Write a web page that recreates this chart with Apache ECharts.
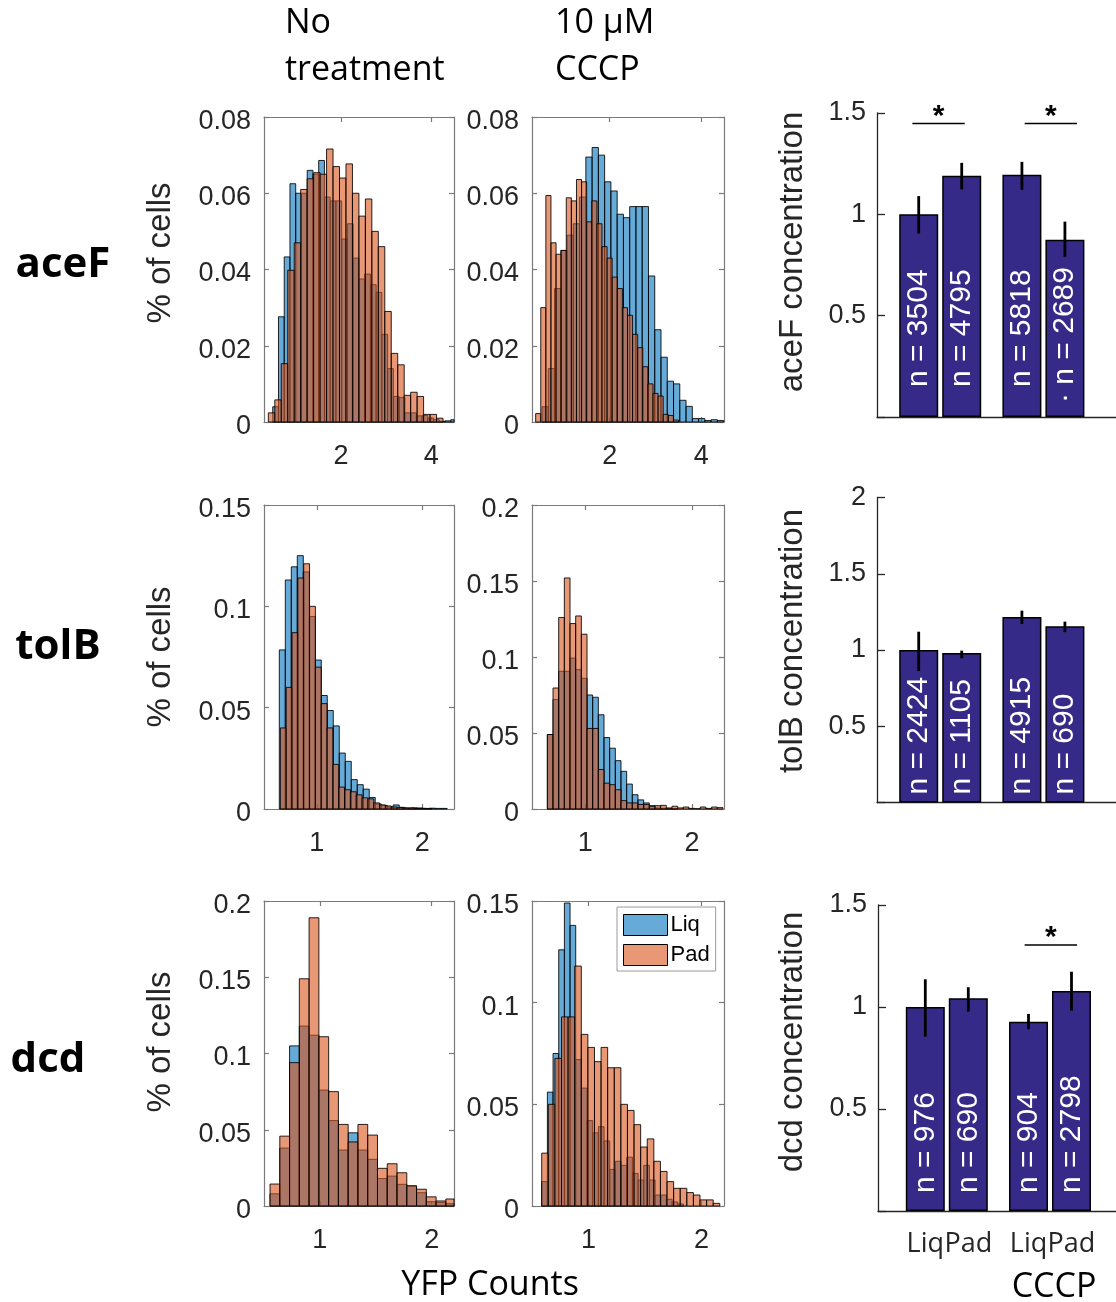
<!DOCTYPE html>
<html><head><meta charset="utf-8">
<script src="https://cdn.jsdelivr.net/npm/echarts@6/dist/echarts.min.js"></script>
<style>html,body{margin:0;padding:0;background:#fff}#c{width:1116px;height:1302px}</style>
</head><body><div id="c"></div>
<script>
// ---------------- DATA ----------------
// Histograms: fraction of cells per YFP bin (bin start, bin width, heights)
const aceF_none_liq_start = 0.493, aceF_none_liq_width = 0.127;
const aceF_none_liq = [0.004,0.0276,0.0433,0.0625,0.060,0.060,0.066,0.065,0.0686,0.059,0.058,0.058,0.048,0.052,0.043,0.0375,0.0388,0.036,0.034,0.023,0.014,0.0067,0.0064,0.0024,0.0024,0.0016,0.0017,0.001,0.0006,0.0002,0.0003,0.0006];
const aceF_none_pad_start = 0.396, aceF_none_pad_width = 0.143;
const aceF_none_pad = [0.0024,0.0058,0.0153,0.0398,0.047,0.061,0.0638,0.0654,0.065,0.0716,0.067,0.064,0.0677,0.060,0.054,0.0585,0.050,0.046,0.029,0.018,0.015,0.007,0.0078,0.0067,0.002,0.002,0.001];

const aceF_cccp_liq_start = 0.519, aceF_cccp_liq_width = 0.137;
const aceF_cccp_liq = [0.004,0.014,0.035,0.045,0.049,0.052,0.059,0.0695,0.072,0.070,0.063,0.0606,0.0545,0.0536,0.0565,0.0565,0.0565,0.0383,0.0242,0.017,0.0107,0.010,0.0057,0.0041,0.0009,0.0009,0.0004,0.0006,0.0004];
const aceF_cccp_pad_start = 0.38, aceF_cccp_pad_width = 0.1116;
const aceF_cccp_pad = [0.0022,0.030,0.0594,0.047,0.044,0.045,0.0588,0.058,0.0636,0.063,0.0525,0.058,0.052,0.046,0.043,0.038,0.035,0.030,0.028,0.023,0.0195,0.0145,0.010,0.0075,0.0068,0.002,0.0017,0.0005];

const tolB_none_liq_start = 0.645, tolB_none_liq_width = 0.0568;
const tolB_none_liq = [0.0785,0.113,0.1195,0.125,0.117,0.095,0.0735,0.056,0.0486,0.041,0.0276,0.0235,0.0145,0.012,0.0098,0.0057,0.0025,0.0018,0.001,0.002,0.0008,0.0005,0.0006,0.0005,0.0003,0.0004,0.0003,0.0003];
const tolB_none_pad_start = 0.655, tolB_none_pad_width = 0.0553;
const tolB_none_pad = [0.040,0.060,0.087,0.114,0.121,0.100,0.070,0.052,0.040,0.022,0.0108,0.0095,0.0085,0.007,0.0055,0.005,0.003,0.002,0.0015,0.001,0.0008,0.0005,0.0005,0.0003,0.0003,0.0002];

const tolB_cccp_liq_start = 0.644, tolB_cccp_liq_width = 0.0531;
const tolB_cccp_liq = [0.049,0.072,0.0906,0.0906,0.0993,0.0917,0.086,0.075,0.0735,0.062,0.047,0.040,0.0318,0.0248,0.0164,0.0094,0.006,0.004,0.0022,0.0007,0.0005,0.0003,0.0002];
const tolB_cccp_pad_start = 0.644, tolB_cccp_pad_width = 0.0531;
const tolB_cccp_pad = [0.049,0.0796,0.126,0.152,0.122,0.127,0.115,0.053,0.053,0.026,0.017,0.016,0.0127,0.0055,0.004,0.004,0.003,0.003,0.0018,0.0022,0.0024,0.0007,0.0018,0.0007,0.0013,0.0004,0.0002,0.0013,0.0004,0.0013,0.0009];

const dcd_none_liq_start = 0.554, dcd_none_liq_width = 0.0874;
const dcd_none_liq = [0.008,0.038,0.105,0.118,0.112,0.076,0.056,0.0367,0.048,0.0367,0.0306,0.018,0.0196,0.0142,0.013,0.0087,0.0028,0.0024,0.0015];
const dcd_none_pad_start = 0.554, dcd_none_pad_width = 0.0874;
const dcd_none_pad = [0.0144,0.0458,0.094,0.149,0.189,0.111,0.075,0.0535,0.042,0.0535,0.0465,0.0247,0.0277,0.0218,0.0133,0.011,0.006,0.0033,0.0046];

const dcd_cccp_liq_start = 0.586, dcd_cccp_liq_width = 0.0502;
const dcd_cccp_liq = [0.012,0.056,0.075,0.126,0.149,0.138,0.072,0.058,0.042,0.036,0.039,0.032,0.018,0.022,0.020,0.024,0.016,0.0128,0.020,0.0128,0.0054,0.0054,0.0033,0.002,0.001];
const dcd_cccp_pad_start = 0.586, dcd_cccp_pad_width = 0.0584;
const dcd_cccp_pad = [0.026,0.050,0.0726,0.093,0.093,0.118,0.0844,0.078,0.071,0.078,0.068,0.068,0.050,0.047,0.040,0.029,0.033,0.022,0.017,0.012,0.0087,0.0087,0.0066,0.0054,0.003,0.003,0.0013];

// Bar charts: relative concentration (mean, error low, error high), cell counts
const conditionLabels = ['Liq', 'Pad', 'Liq', 'Pad'];
const conditionPos = [1, 2, 3.4, 4.4];
const aceF_mean = [1.0, 1.19, 1.195, 0.875];
const aceF_errLo = [0.905, 1.123, 1.121, 0.79];
const aceF_errHi = [1.09, 1.254, 1.259, 0.964];
const aceF_n = ['n = 3504', 'n = 4795', 'n = 5818', '\u00b7 n = 2689'];
const tolB_mean = [1.0, 0.98, 1.217, 1.156];
const tolB_errLo = [0.862, 0.946, 1.171, 1.117];
const tolB_errHi = [1.12, 0.996, 1.258, 1.186];
const tolB_n = ['n = 2424', 'n = 1105', 'n = 4915', 'n = 690'];
const dcd_mean = [1.0, 1.043, 0.928, 1.078];
const dcd_errLo = [0.854, 0.977, 0.891, 0.982];
const dcd_errHi = [1.136, 1.097, 0.966, 1.173];
const dcd_n = ['n = 976', 'n = 690', 'n = 904', 'n = 2798'];
// significance brackets
const aceF_sigX1 = [0.853, 3.465], aceF_sigX2 = [2.07, 4.68], aceF_sigY = [1.448, 1.448];
const tolB_sigX1 = [], tolB_sigX2 = [], tolB_sigY = [];
const dcd_sigX1 = [3.31], dcd_sigX2 = [4.53], dcd_sigY = [1.304];

// ---------------- STYLE / LAYOUT ----------------
const AX = 'Liberation Sans';
const TF = 'Open Sans';
const TXT = '#262626';
const BOXC = '#7a7a7a';
const BLUE = 'rgba(0,114,189,0.6)';
const ORANGE = 'rgba(217,83,25,0.6)';
const BARC = '#352a87';

function bins(start, width, counts) {
  return counts.map((c, i) => [start + i * width, start + (i + 1) * width, c]);
}

const histPanels = [
  {grid:{left:264, top:117, width:190, height:305}, xMin:0.3, xMax:4.5, xTicks:[2,4], yMax:0.08, yStep:0.02,
   liq:bins(aceF_none_liq_start, aceF_none_liq_width, aceF_none_liq), pad:bins(aceF_none_pad_start, aceF_none_pad_width, aceF_none_pad)},
  {grid:{left:532, top:117, width:192, height:305}, xMin:0.3, xMax:4.5, xTicks:[2,4], yMax:0.08, yStep:0.02,
   liq:bins(aceF_cccp_liq_start, aceF_cccp_liq_width, aceF_cccp_liq), pad:bins(aceF_cccp_pad_start, aceF_cccp_pad_width, aceF_cccp_pad)},
  {grid:{left:264, top:505, width:190, height:304}, xMin:0.5, xMax:2.3, xTicks:[1,2], yMax:0.15, yStep:0.05,
   liq:bins(tolB_none_liq_start, tolB_none_liq_width, tolB_none_liq), pad:bins(tolB_none_pad_start, tolB_none_pad_width, tolB_none_pad)},
  {grid:{left:532, top:505, width:192, height:304}, xMin:0.5, xMax:2.3, xTicks:[1,2], yMax:0.2, yStep:0.05,
   liq:bins(tolB_cccp_liq_start, tolB_cccp_liq_width, tolB_cccp_liq), pad:bins(tolB_cccp_pad_start, tolB_cccp_pad_width, tolB_cccp_pad)},
  {grid:{left:264, top:901, width:190, height:305}, xMin:0.5, xMax:2.2, xTicks:[1,2], yMax:0.2, yStep:0.05,
   liq:bins(dcd_none_liq_start, dcd_none_liq_width, dcd_none_liq), pad:bins(dcd_none_pad_start, dcd_none_pad_width, dcd_none_pad)},
  {grid:{left:532, top:901, width:192, height:305}, xMin:0.5, xMax:2.2, xTicks:[1,2], yMax:0.15, yStep:0.05,
   liq:bins(dcd_cccp_liq_start, dcd_cccp_liq_width, dcd_cccp_liq), pad:bins(dcd_cccp_pad_start, dcd_cccp_pad_width, dcd_cccp_pad)}
];

const barPanels = [
  {grid:{left:877, top:113, width:239, height:304}, xMin:0.03, xMax:5.588, yMax:1.5, labelDist:[30,30,30,14], showX:false,
   mean:aceF_mean, lo:aceF_errLo, hi:aceF_errHi, n:aceF_n, sx1:aceF_sigX1, sx2:aceF_sigX2, sy:aceF_sigY},
  {grid:{left:877, top:497.5, width:239, height:305}, xMin:0.03, xMax:5.588, yMax:2, labelDist:[8,8,8,8], showX:false,
   mean:tolB_mean, lo:tolB_errLo, hi:tolB_errHi, n:tolB_n, sx1:tolB_sigX1, sx2:tolB_sigX2, sy:tolB_sigY},
  {grid:{left:878, top:905, width:238, height:306}, xMin:-0.1, xMax:5.435, yMax:1.5, labelDist:[18,18,18,18], showX:true,
   mean:dcd_mean, lo:dcd_errLo, hi:dcd_errHi, n:dcd_n, sx1:dcd_sigX1, sx2:dcd_sigX2, sy:dcd_sigY}
];

const grids = [], xAxes = [], yAxes = [], series = [];

function histRender(fill) {
  return function (params, api) {
    const a = api.coord([api.value(0), api.value(2)]);
    const b = api.coord([api.value(1), 0]);
    const cs = params.coordSys;
    const r = echarts.graphic.clipRectByRect(
      {x:a[0], y:a[1], width:b[0]-a[0], height:b[1]-a[1]},
      {x:cs.x, y:cs.y, width:cs.width, height:cs.height});
    if (!r) return;
    return {type:'rect', shape:r, style:{fill:fill, stroke:'rgba(0,0,0,0.85)', lineWidth:1}};
  };
}

histPanels.forEach((p, i) => {
  grids.push(Object.assign({containLabel:false}, p.grid));
  const lineStyle = {color:BOXC, width:1.2};
  xAxes.push({type:'value', gridIndex:i, min:p.xMin, max:p.xMax, position:'bottom',
    axisLine:{show:true, onZero:false, lineStyle},
    axisTick:{show:true, inside:true, length:5, customValues:p.xTicks, lineStyle},
    axisLabel:{show:true, customValues:p.xTicks, color:TXT, fontSize:27, fontFamily:AX, margin:21},
    splitLine:{show:false}});
  xAxes.push({type:'value', gridIndex:i, min:p.xMin, max:p.xMax, position:'top',
    axisLine:{show:true, onZero:false, lineStyle},
    axisTick:{show:true, inside:true, length:5, customValues:p.xTicks, lineStyle},
    axisLabel:{show:false}, splitLine:{show:false}});
  yAxes.push({type:'value', gridIndex:i, min:0, max:p.yMax, interval:p.yStep, position:'left',
    axisLine:{show:true, onZero:false, lineStyle},
    axisTick:{show:true, inside:true, length:5, lineStyle},
    axisLabel:{show:true, color:TXT, fontSize:27, fontFamily:AX, margin:13,
      formatter: v => '{d|' + v + '}',
      rich:{d:{fontSize:27, fontFamily:AX, color:TXT, padding:[9,0,0,0]}}},
    splitLine:{show:false}});
  yAxes.push({type:'value', gridIndex:i, min:0, max:p.yMax, interval:p.yStep, position:'right',
    axisLine:{show:true, onZero:false, lineStyle},
    axisTick:{show:true, inside:true, length:5, lineStyle},
    axisLabel:{show:false}, splitLine:{show:false}});
  series.push({type:'custom', name:'Liq', coordinateSystem:'cartesian2d', xAxisIndex:2*i, yAxisIndex:2*i,
    data:p.liq, encode:{x:[0,1], y:2}, renderItem:histRender(BLUE), itemStyle:{color:BLUE}, z:2});
  series.push({type:'custom', name:'Pad', coordinateSystem:'cartesian2d', xAxisIndex:2*i, yAxisIndex:2*i,
    data:p.pad, encode:{x:[0,1], y:2}, renderItem:histRender(ORANGE), itemStyle:{color:ORANGE}, z:3});
});

barPanels.forEach((p, k) => {
  const gi = histPanels.length + k;
  const xi = xAxes.length, yi = yAxes.length;
  grids.push(Object.assign({containLabel:false}, p.grid));
  const lineStyle = {color:TXT, width:1.3};
  xAxes.push({type:'value', gridIndex:gi, min:p.xMin, max:p.xMax,
    axisLine:{show:true, onZero:false, lineStyle},
    axisTick:{show:false},
    axisLabel:{show:p.showX, customValues:conditionPos, interval:0, hideOverlap:false,
      showMinLabel:true, showMaxLabel:true,
      color:TXT, fontSize:27, fontFamily:TF, margin:20,
      formatter: v => { const j = conditionPos.findIndex(q => Math.abs(q - v) < 1e-6); return j >= 0 ? conditionLabels[j] : ''; }},
    splitLine:{show:false}});
  yAxes.push({type:'value', gridIndex:gi, min:0, max:p.yMax, interval:0.5,
    axisLine:{show:true, onZero:false, lineStyle},
    axisTick:{show:true, inside:true, length:8, lineStyle},
    axisLabel:{show:true, color:TXT, fontSize:27, fontFamily:AX, margin:11,
      formatter: v => (v === 0 ? '' : String(v))},
    splitLine:{show:false}});
  series.push({type:'bar', name:'conc' + k, xAxisIndex:xi, yAxisIndex:yi, barWidth:39,
    itemStyle:{color:BARC, borderColor:'#000', borderWidth:1.5},
    data:p.mean.map((m, j) => ({value:[conditionPos[j], m], label:{distance:p.labelDist[j]}})),
    label:{show:true, position:'insideBottom', rotate:90, align:'left', verticalAlign:'middle',
      color:'#fff', fontSize:30, fontFamily:AX, formatter: prm => p.n[prm.dataIndex]},
    z:2});
  series.push({type:'custom', name:'err' + k, coordinateSystem:'cartesian2d', xAxisIndex:xi, yAxisIndex:yi,
    data:p.mean.map((m, j) => [conditionPos[j], p.lo[j], p.hi[j]]), encode:{x:0, y:[1,2]},
    renderItem:(params, api) => {
      const a = api.coord([api.value(0), api.value(1)]);
      const b = api.coord([api.value(0), api.value(2)]);
      return {type:'line', shape:{x1:a[0], y1:a[1], x2:b[0], y2:b[1]}, style:{stroke:'#000', lineWidth:2.8}};
    }, z:5});
  if (p.sy.length) {
    series.push({type:'custom', name:'sig' + k, coordinateSystem:'cartesian2d', xAxisIndex:xi, yAxisIndex:yi,
      data:p.sy.map((y, j) => [p.sx1[j], p.sx2[j], y]), encode:{x:[0,1], y:2},
      renderItem:(params, api) => {
        const a = api.coord([api.value(0), api.value(2)]);
        const b = api.coord([api.value(1), api.value(2)]);
        return {type:'group', children:[
          {type:'line', shape:{x1:a[0], y1:a[1], x2:b[0], y2:b[1]}, style:{stroke:'#000', lineWidth:1.6}},
          {type:'text', x:(a[0]+b[0])/2, y:a[1]-7, style:{text:'*', fill:'#000', font:'bold 30px ' + AX, align:'center', verticalAlign:'middle'}}
        ]};
      }, z:5});
  }
});

const T = (t, x, y, font, fill, align, rot) => ({type:'text', x, y, rotation:rot || 0,
  style:{text:t, fill:fill, font:font, align:align, verticalAlign:'middle'}});

const graphics = [
  T('No', 285, 23, '34px ' + TF, '#000', 'left'),
  T('treatment', 285, 70, '34px ' + TF, '#000', 'left'),
  T('10 \u03bcM', 555, 23, '34px ' + TF, '#000', 'left'),
  T('CCCP', 555, 70, '34px ' + TF, '#000', 'left'),
  T('aceF', 63, 265, 'bold 42px ' + TF, '#000', 'center'),
  T('tolB', 58, 647, 'bold 42px ' + TF, '#000', 'center'),
  T('dcd', 48, 1060, 'bold 42px ' + TF, '#000', 'center'),
  T('% of cells', 161, 253, '33px ' + AX, TXT, 'center', Math.PI/2),
  T('% of cells', 161, 657, '33px ' + AX, TXT, 'center', Math.PI/2),
  T('% of cells', 161, 1042, '33px ' + AX, TXT, 'center', Math.PI/2),
  T('YFP Counts', 490, 1285, '34px ' + TF, '#000', 'center'),
  T('aceF concentration', 793, 252, '33px ' + AX, TXT, 'center', Math.PI/2),
  T('tolB concentration', 793, 641, '33px ' + AX, TXT, 'center', Math.PI/2),
  T('dcd concentration', 793, 1042, '33px ' + AX, TXT, 'center', Math.PI/2),
  T('CCCP', 1054, 1287, '34px ' + TF, '#000', 'center')
];

const chart = echarts.init(document.getElementById('c'), null, {renderer:'canvas', width:1116, height:1302});
chart.setOption({
  animation:false,
  backgroundColor:'#fff',
  textStyle:{fontFamily:AX},
  grid:grids, xAxis:xAxes, yAxis:yAxes, series:series,
  legend:{show:true, orient:'vertical', left:617, top:907, icon:'rect', itemWidth:44, itemHeight:21, itemGap:8,
    backgroundColor:'#fff', borderColor:'#9a9a9a', borderWidth:1, borderRadius:0, padding:[7,6,5,6],
    textStyle:{fontSize:22, color:'#000', fontFamily:AX, padding:[0,0,0,-2]},
    data:[{name:'Liq', itemStyle:{color:BLUE, borderColor:'#000', borderWidth:1}},
          {name:'Pad', itemStyle:{color:ORANGE, borderColor:'#000', borderWidth:1}}],
    selectedMode:false},
  graphic:graphics
});
</script>
</body></html>
